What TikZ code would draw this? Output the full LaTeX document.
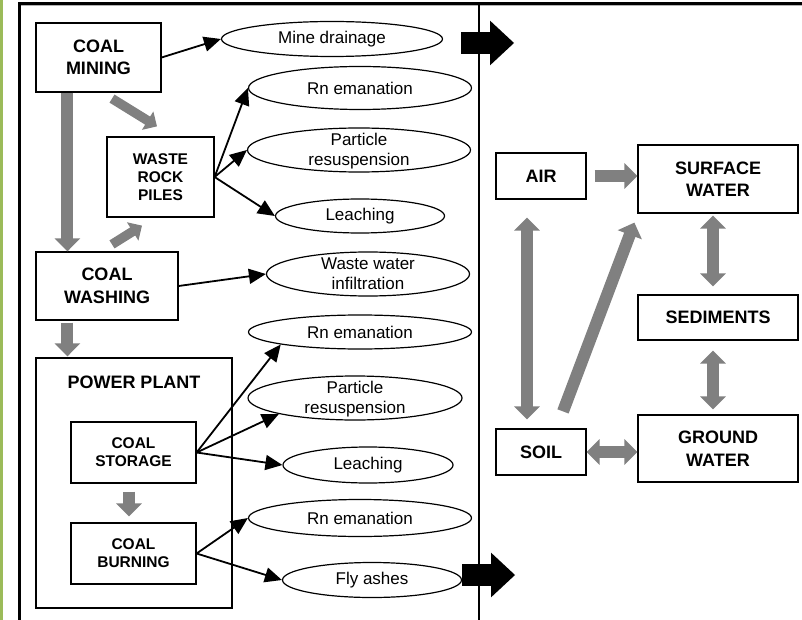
\documentclass[tikz,border=0pt]{standalone}
\usepackage{fontspec}
\setmainfont{Liberation Sans}
\usetikzlibrary{arrows.meta,shapes.geometric,positioning}

\definecolor{flowgray}{RGB}{128,128,128}
\definecolor{stripgreen}{RGB}{155,187,89}

\tikzset{
  src/.style={draw,line width=1.2pt,inner sep=0pt,align=center,
    font=\bfseries\fontsize{18}{22.5}\selectfont},
  subsrc/.style={src,font=\bfseries\fontsize{15.5}{18.3}\selectfont},
  release/.style={draw,ellipse,line width=1.2pt,inner sep=0pt,
    font=\fontsize{17}{20}\selectfont},
  emit/.style={line width=1.8pt,-{Triangle[length=17pt,width=15pt]}},
  flow/.style={flowgray,line width=12pt,-{Triangle[length=13pt,width=25pt]}},
  thinflow/.style={flowgray,line width=9.5pt,-{Triangle[length=11pt,width=21pt]}},
  flows/.style={flow,{Triangle[length=13pt,width=25pt]}-{Triangle[length=13pt,width=25pt]}},
  outflow/.style={line width=22pt,-{Triangle[length=24pt,width=43pt]}}
}
\newcommand{\tworows}[2]{\raisebox{-6pt}[0pt][0pt]{\begin{tabular}{@{}c@{}}#1\\#2\end{tabular}}}

\begin{document}
\begin{tikzpicture}[x=1pt,y=-1pt]
\useasboundingbox (0,0) rectangle (802,620);

% frame
\fill[stripgreen] (0,0) rectangle (3,620);
\draw[line width=1pt,gray!60] (18,5.5) -- (802,5.5);
\draw[line width=3pt] (19,620) -- (19,3.5) -- (802,3.5);
\draw[line width=2pt] (479,3.5) -- (479,620);

% sources
\node[src,minimum width=125pt,minimum height=69pt] (mining) at (98.5,57.5) {COAL\\MINING};
\node[subsrc,minimum width=107pt,minimum height=80pt] (waste) at (160.5,177) {WASTE\\ROCK\\PILES};
\node[src,minimum width=142pt,minimum height=68pt] (washing) at (107,286) {COAL\\WASHING};
\node[src,minimum width=196pt,minimum height=250pt] (plant) at (134,483) {};
\node[src,draw=none] (plantname) at (134,382) {POWER PLANT};
\node[subsrc,minimum width=125pt,minimum height=61pt] (storage) at (133.5,452.5) {COAL\\STORAGE};
\node[subsrc,minimum width=125pt,minimum height=61pt] (burning) at (133.5,553.5) {COAL\\BURNING};

% releases
\node[release,minimum width=221pt,minimum height=35pt] (drain) at (332,39) {Mine drainage};
\node[release,minimum width=223pt,minimum height=43pt] (rnA) at (360,88) {Rn emanation};
\node[release,minimum width=223pt,minimum height=44pt] (partA) at (359,150) {\tworows{Particle}{resuspension}};
\node[release,minimum width=169pt,minimum height=34pt] (leachA) at (360,216) {Leaching};
\node[release,minimum width=203pt,minimum height=44pt] (infil) at (368,274) {\tworows{Waste water}{infiltration}};
\node[release,minimum width=223pt,minimum height=34pt] (rnB) at (360,332) {Rn emanation};
\node[release,minimum width=214pt,minimum height=44pt] (partB) at (355,398) {\tworows{Particle}{resuspension}};
\node[release,minimum width=170pt,minimum height=36pt] (leachB) at (368,465) {Leaching};
\node[release,minimum width=223pt,minimum height=37pt] (rnC) at (360,518) {Rn emanation};
\node[release,minimum width=179pt,minimum height=35pt] (fly) at (372,580) {Fly ashes};

% compartments
\node[src,minimum width=90pt,minimum height=46pt] (air) at (541,176) {AIR};
\node[src,minimum width=160pt,minimum height=68pt] (surface) at (718,179) {SURFACE\\WATER};
\node[src,minimum width=160pt,minimum height=45pt] (sediments) at (718,317.5) {SEDIMENTS};
\node[src,minimum width=160pt,minimum height=67pt] (ground) at (718,448.5) {GROUND\\WATER};
\node[src,minimum width=90pt,minimum height=46pt] (soil) at (541,452) {SOIL};

% process chain
\draw[flow] ([xshift=32pt]mining.south west) -- ([xshift=32pt]washing.north west);
\draw[thinflow] ([shift={(13.5,6)}]mining.south) -- ([shift={(-3.5,-10)}]waste.north);
\draw[thinflow] ([shift={(5,-7)}]washing.north) -- ([shift={(-18.5,8)}]waste.south);
\draw[flow] ([shift={(32,2)}]washing.south west) -- ([shift={(32,-1)}]plant.north west);
\draw[flow] ([shift={(-4.5,8)}]storage.south) -- ([shift={(-4.5,-6)}]burning.north);

% emissions
\draw[emit] (mining.east) -- (drain.west);
\draw[emit] (waste.east) -- (rnA.west);
\draw[emit] (waste.east) -- (partA.west);
\draw[emit] (waste.east) -- (leachA.west);
\draw[emit] (washing.east) -- (infil.west);
\draw[emit] (storage.east) -- (rnB.south west);
\draw[emit] (storage.east) -- (partB.south west);
\draw[emit] (storage.east) -- (leachB.west);
\draw[emit] (burning.east) -- (rnC.west);
\draw[emit] (burning.east) -- (fly.west);

% to the environment
\draw[outflow] ([shift={(18,4)}]drain.east) -- ++(53,0);
\draw[outflow] ([shift={(0,-5)}]fly.east) -- ++(53,0);

% transfers
\draw[flow] ([xshift=8pt]air.east) -- (air.east -| surface.west);
\draw[flows] ([shift={(-14,18)}]air.south) -- ([shift={(-14,-9)}]soil.north);
\draw[flow] ([shift={(22,-17)}]soil.north) -- ([shift={(-3,9)}]surface.south west);
\draw[flows] ([shift={(-5,2)}]surface.south) -- ([shift={(-5,-8)}]sediments.north);
\draw[flows] ([shift={(-5,10)}]sediments.south) -- ([shift={(-5,-5)}]ground.north);
\draw[flows] (soil.east) -- (soil.east -| ground.west);
\end{tikzpicture}
\end{document}
